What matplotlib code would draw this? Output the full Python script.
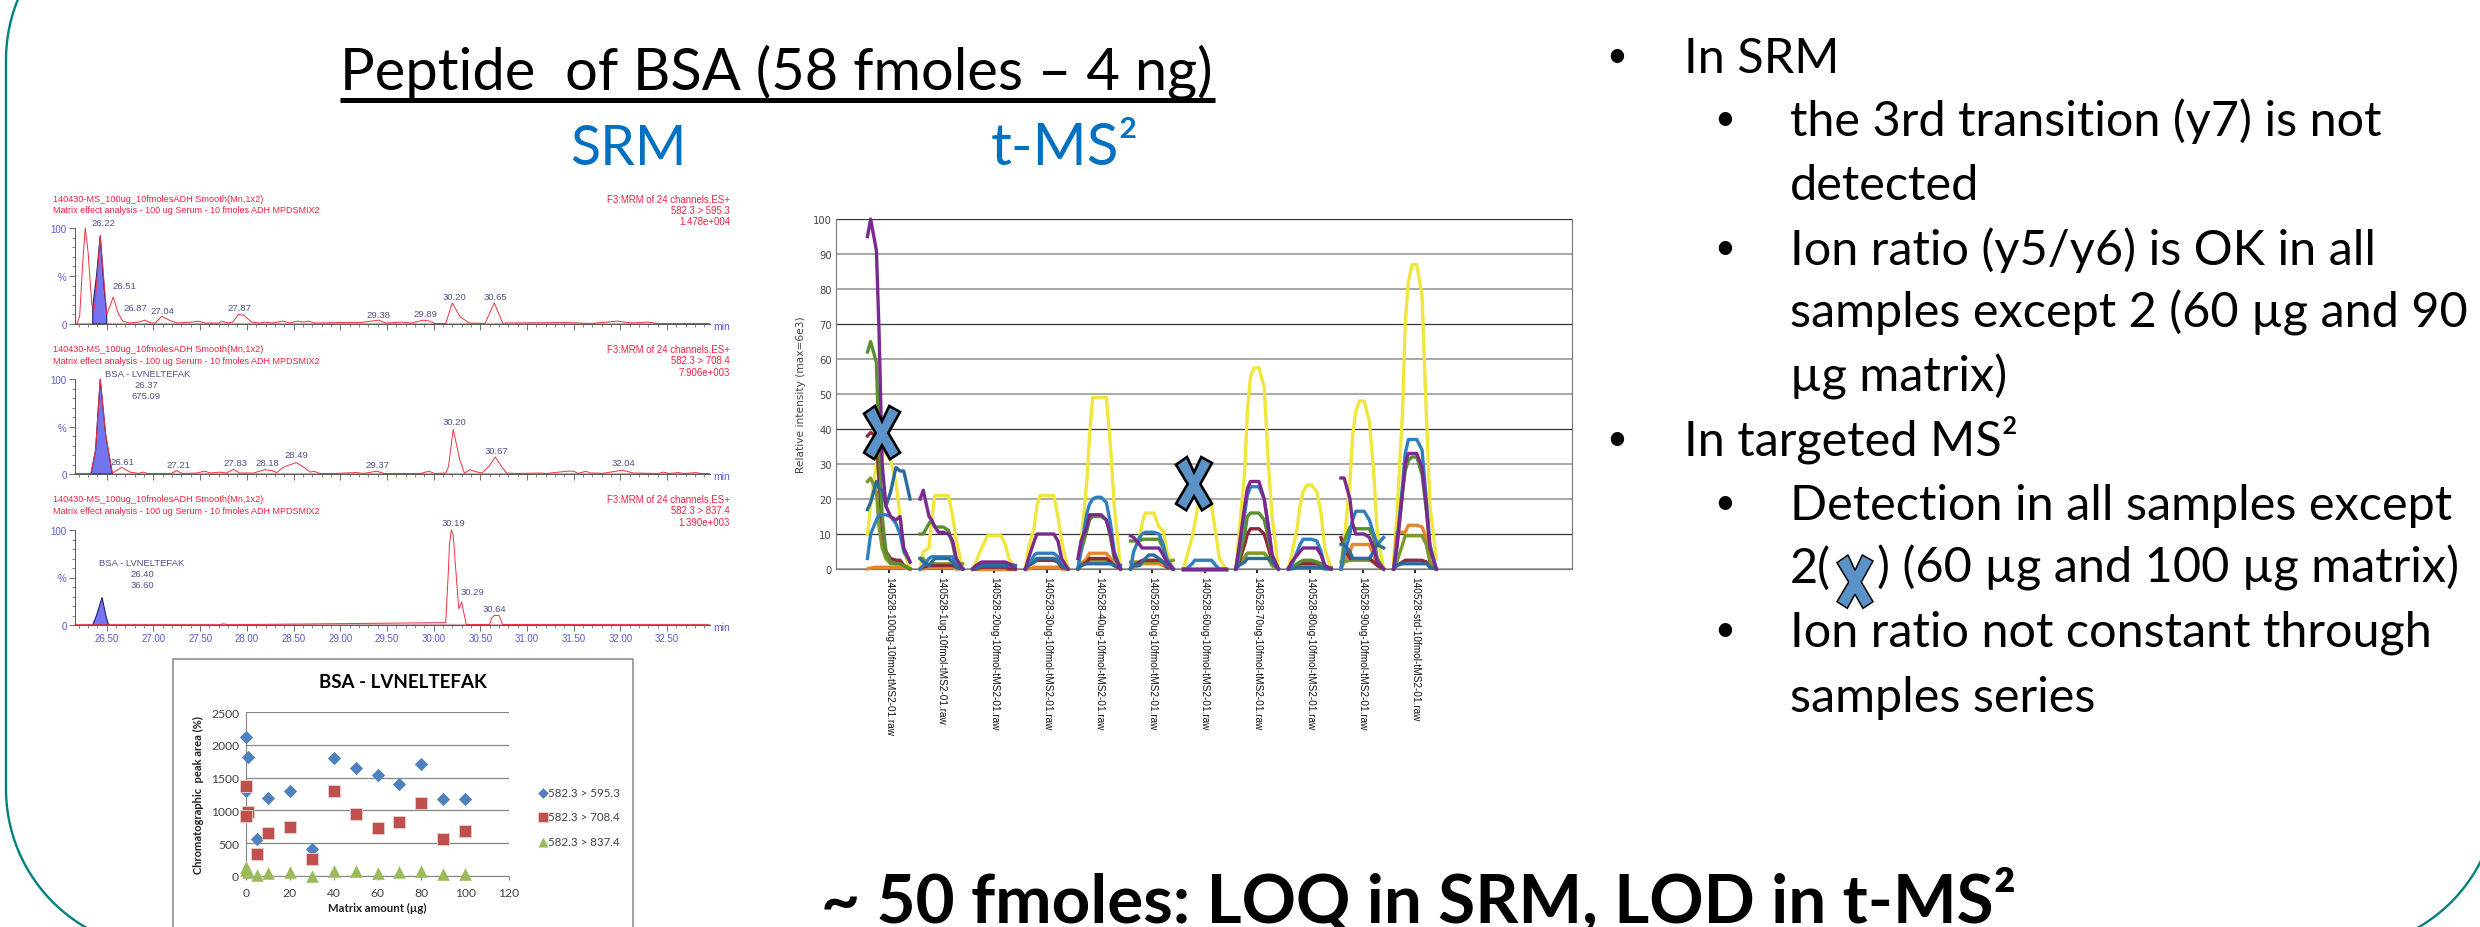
import numpy as np
import matplotlib
matplotlib.use("Agg")
import matplotlib.pyplot as plt
from matplotlib.patches import Polygon
from matplotlib.ticker import MultipleLocator

# data
# ------------------------------------------------------------------------------
p1_rt = [26.16, 26.18, 26.21, 26.24, 26.27, 26.30, 26.34, 26.37, 26.43, 26.50, 26.57, 26.62, 26.67, 26.75,
         26.84, 26.91, 26.97, 27.02, 27.09, 27.19, 27.26, 27.41, 27.48, 27.55, 27.70, 27.73, 27.80, 27.85,
         27.91, 27.97, 28.05, 28.14, 28.19, 28.27, 28.39, 28.46, 28.54, 28.61, 28.66, 28.73, 28.98, 29.22,
         29.41, 29.49, 29.66, 29.76, 29.89, 29.96, 30.01, 30.13, 30.20, 30.28, 30.38, 30.55, 30.65, 30.74,
         31.43, 31.68, 31.97, 32.12, 32.29, 32.41, 32.95]
p1_pct = [0, 0, 8, 60, 100, 75, 20, 15, 92, 10, 28, 12, 3, 1,
          2, 4, 1, 1, 8, 3, 1, 2, 3, 1, 1, 3, 1, 2,
          10, 9, 2, 1, 2, 1, 3, 1, 3, 2, 3, 1, 1.5, 1.5,
          4, 1, 2, 1, 4, 3, 0.5, 0.5, 22, 8, 1, 0.5, 22, 1,
          1.5, 0.5, 3, 1, 2, 0.5, 0.5]
p1_area_rt = [26.35, 26.35, 26.39, 26.43, 26.47, 26.50, 26.50]
p1_area_pct = [0, 18, 50, 92, 40, 10, 0]

p2_rt = [26.16, 26.33, 26.38, 26.43, 26.49, 26.56, 26.66, 26.75, 26.84, 26.89, 26.94, 27.19, 27.25, 27.31, 27.46,
         27.55, 27.61, 27.71, 27.78, 27.86, 27.92, 28.07, 28.19, 28.27, 28.32, 28.39, 28.44, 28.53,
         28.61, 28.68, 28.72, 28.78, 28.93, 29.17, 29.25, 29.39, 29.47, 29.86, 29.95, 30.01, 30.13,
         30.16, 30.21, 30.28, 30.33, 30.39, 30.45, 30.52, 30.60, 30.66, 30.72, 30.78, 30.89, 31.14,
         31.21, 31.43, 31.50, 31.55, 31.63, 31.68, 31.75, 31.80, 32.02, 32.14, 32.41, 32.46, 32.52,
         32.62, 32.68, 32.81, 32.86, 32.95]
p2_pct = [0.5, 0.5, 25, 100, 40, 1, 7, 2, 0.5, 2, 0.5, 0.5, 3.5, 0.5, 1,
          3, 1, 2, 1, 5, 1, 1, 4.5, 3.5, 1.5, 7, 9, 12,
          7, 2, 3, 0.5, 0.5, 1.5, 0.5, 3, 0.5, 0.5, 3, 0.5, 1,
          8, 47, 15, 1, 4.5, 2.5, 1, 9, 18, 9, 1, 0.5, 1,
          0.5, 3, 3, 0.5, 3, 1, 1, 0.5, 4, 1, 0.5, 2, 0.5,
          1.5, 0.5, 1.5, 0.5, 0.5]
p2_area_rt = [26.33, 26.38, 26.43, 26.49, 26.56]
p2_area_pct = [0, 25, 100, 40, 0]

p3_rt = [26.16, 27.70, 27.75, 27.80, 30.13, 30.16, 30.17, 30.19, 30.21, 30.24, 30.27, 30.30, 30.35, 30.60,
         30.62, 30.65, 30.70, 30.74, 32.95]
p3_pct = [0.3, 0.3, 1.2, 0.3, 2.5, 60, 85, 100, 95, 55, 17, 24, 0.5, 0.5, 7, 10, 10, 0.5, 0.3]
p3_area_rt = [26.35, 26.39, 26.45, 26.49, 26.52]
p3_area_pct = [0, 10, 29, 10, 0]
rt_ticks = [26.5, 27, 27.5, 28, 28.5, 29, 29.5, 30, 30.5, 31, 31.5, 32, 32.5]

matrix_blue = [0, 1, 0, 5, 10, 20, 30, 40, 50, 60, 70, 80, 90, 100]
area_blue = [2120, 1810, 1300, 560, 1190, 1290, 410, 1800, 1640, 1540, 1400, 1700, 1180, 1180]
matrix_red = [0, 1, 0, 5, 10, 20, 30, 40, 50, 60, 70, 80, 90, 100]
area_red = [1370, 980, 910, 340, 660, 750, 260, 1290, 950, 730, 830, 1120, 560, 680]
matrix_green = [0, 0, 1, 5, 10, 20, 30, 40, 50, 60, 70, 80, 90, 100]
area_green = [130, 90, 60, 10, 40, 60, 5, 80, 70, 40, 60, 70, 35, 25]
legend_names = ['582.3 > 595.3', '582.3 > 708.4', '582.3 > 837.4']

sample_names = ['140528-100ug-10fmol-tMS2-01.raw', '140528-1ug-10fmol-tMS2-01.raw', '140528-20ug-10fmol-tMS2-01.raw',
                '140528-30ug-10fmol-tMS2-01.raw', '140528-40ug-10fmol-tMS2-01.raw', '140528-50ug-10fmol-tMS2-01.raw',
                '140528-60ug-10fmol-tMS2-01.raw', '140528-70ug-10fmol-tMS2-01.raw', '140528-80ug-10fmol-tMS2-01.raw',
                '140528-90ug-10fmol-tMS2-01.raw', '140528-std-10fmol-tMS2-01.raw']
scan_offsets = [-0.41, -0.35, -0.24, -0.19, -0.13, -0.06, 0.03, 0.13, 0.21, 0.28, 0.40]
yellow = [[10, 18, 30, 33, 33, 33, 31, 25, 15, 5, 0],
          [0, 5, 6, 14, 21, 21, 21, 21, 15, 8, 0],
          [0, 2, 6, 7.5, 9.5, 9.5, 9.5, 9.5, 7, 3, 0],
          [0, 6, 12, 18, 21, 21, 21, 21, 15, 8, 0],
          [0, 8, 25, 38, 49, 49, 49, 49, 35, 18, 0],
          [0, 5, 9, 13, 16, 16, 16, 12, 11, 5, 0],
          [0, 3, 9, 13, 18, 18, 18, 18, 10, 3, 0],
          [0, 10, 28, 45, 55, 57.5, 57.5, 52, 30, 15, 0],
          [0, 4, 12, 18, 22, 24, 24, 22, 16, 6, 0],
          [0, 8, 25, 38, 45, 48, 48, 42, 28, 10, 0],
          [2, 15, 45, 70, 82, 87, 87, 78, 45, 18, 3]]
purple = [[95, 100, 91, 68, 30, 18, 15, 14, 15, 6, 2],
          [20, 22.5, 15, 14, 12, 10.5, 10.5, 10, 8, 3, 0],
          [0, 1, 2, 2, 2, 2, 2, 2, 2, 1.5, 0],
          [0, 3, 8, 10, 10, 10, 10, 10, 8, 3, 0],
          [3, 8, 12, 15.5, 15.5, 15.5, 15.5, 14, 10, 4, 0],
          [9.5, 9, 7, 6, 6, 6, 6, 6, 4, 2, 0],
          [0, 0, 0, 0, 0, 0, 0, 0, 0, 0, 0],
          [0, 6, 18, 23, 25, 25, 25, 20, 12, 4, 0],
          [0, 2, 4, 5, 6, 6, 6, 6, 4, 1, 0],
          [26, 26, 20, 13, 10, 10, 10, 9, 6, 2, 0],
          [0, 6, 22, 30, 33, 33, 33, 29, 18, 6, 0]]
green = [[62, 65, 59, 35, 15, 5, 2, 1.5, 1.5, 1, 0],
         [10, 10, 13, 14, 12, 12, 12, 11, 7, 2, 0],
         [0, 0.5, 1, 1, 1, 1, 1, 1, 1, 1, 0.5],
         [0, 1, 2, 3, 3, 3, 3, 3, 2.5, 1, 0],
         [0, 5, 11, 14, 15, 15, 15, 14, 9, 3, 0],
         [8, 8, 8, 8.5, 8.5, 8.5, 8.5, 8.5, 6, 2, 0],
         [0, 0, 0, 0, 0, 0, 0, 0, 0, 0, 0],
         [0, 3, 10, 15, 16, 16, 16, 14, 9, 3, 0],
         [0, 0.5, 1.5, 2, 2.5, 2.5, 2.5, 2, 1.5, 0.5, 0],
         [0, 8, 12, 12, 11.5, 11.5, 11.5, 11.5, 9, 3, 0],
         [0, 6, 22, 28, 31, 32, 32, 27, 17, 6, 0]]
blue = [[3, 10, 14, 15.5, 15.5, 15.5, 15, 13, 10, 5, 2],
        [0, 1, 3, 3.5, 3.5, 3.5, 3.5, 3.5, 3.5, 1, 0],
        [0, 0.5, 1.5, 1.5, 1.5, 1.5, 1.5, 1.5, 1.5, 1.5, 1],
        [0, 1, 4, 4.5, 4.5, 4.5, 4.5, 4.5, 3.5, 1, 0],
        [0, 6, 16, 18.5, 20, 20.5, 20.5, 19, 13, 5, 0],
        [0, 5, 9, 10, 10.5, 10.5, 10.5, 10, 7, 3, 0],
        [0, 0, 1.5, 2.5, 2.5, 2.5, 2.5, 2.5, 1, 0, 0],
        [0, 5, 16, 21, 23.5, 23.5, 23.5, 20, 12, 4, 0],
        [0, 1, 5, 7, 8.5, 8.5, 8.5, 8, 5, 1, 0],
        [0, 4, 10, 14, 16.5, 16.5, 16.5, 14, 10, 7, 9],
        [0, 7, 24, 33, 37, 37, 37, 34, 20, 7, 0]]
steel = [[17, 19, 25, 23, 22.5, 18, 22, 29, 28, 28, 20],
         [3, 2, 1, 2, 3, 3, 3, 3, 2, 0.5, 0],
         [0, 0, 1, 1, 1, 1, 1, 1, 1, 1, 1],
         [0, 1, 2, 3, 3, 3, 3, 3, 2, 1, 0],
         [0, 1, 1.5, 1.5, 1.5, 1.5, 1.5, 1.5, 1.5, 1, 1],
         [0, 1, 1, 2, 3, 4, 4, 3, 2, 1, 0],
         [0, 0, 0, 0, 0, 0, 0, 0, 0, 0, 0],
         [0, 1, 2, 3, 3, 3, 3, 3, 3, 2, 0],
         [0, 0, 0.5, 0.5, 0.5, 0.5, 0.5, 0.5, 0.5, 0, 0],
         [7, 7, 5, 3, 3, 3, 3, 3, 5, 7, 6],
         [0, 1, 1.5, 1.5, 1.5, 1.5, 1.5, 1.5, 1.5, 0.5, 0]]
darkred = [[38, 39, 38, 25, 12, 5, 3, 2.5, 2.5, 1, 0],
           [0, 0.5, 1, 1, 1, 1, 1, 1, 1, 0.5, 0],
           [0, 0, 0.5, 0.5, 0.5, 0.5, 0.5, 0.5, 0.5, 0, 0],
           [0, 1, 2, 2.5, 2.5, 2.5, 2.5, 2.5, 2, 0.5, 0],
           [0, 1, 2, 3, 3, 3, 3, 3, 2, 1, 0],
           [0, 1, 2, 2.5, 2.5, 2.5, 2.5, 2.5, 2, 0.5, 0],
           [0, 0, 0, 0, 0, 0, 0, 0, 0, 0, 0],
           [0, 2, 7, 10, 11.5, 11.5, 11.5, 10, 6, 2, 0],
           [0, 0.5, 1, 1.5, 1.5, 1.5, 1.5, 1.5, 1, 0.5, 0],
           [9, 6, 3, 3, 3, 3, 3, 3, 2, 1, 0],
           [0, 1, 2, 2.5, 2.5, 2.5, 2.5, 2.5, 2, 0.5, 0]]
orange = [[0, 0.3, 0.5, 0.5, 0.5, 0.5, 0.5, 0.5, 0.5, 0.3, 0],
          [0, 0, 0.5, 0.5, 0.5, 0.5, 0.5, 0.5, 0.5, 0, 0],
          [0, 0, 0, 0, 0, 0, 0, 0, 0, 0, 0],
          [0, 0, 0.5, 0.5, 0.5, 0.5, 0.5, 0.5, 0.5, 0, 0],
          [0, 1.5, 3, 4.5, 4.5, 4.5, 4.5, 4.5, 3, 1, 0],
          [0, 0.5, 1, 1.5, 1.5, 1.5, 1.5, 1.5, 1, 0.5, 0],
          [0, 0, 0, 0, 0, 0, 0, 0, 0, 0, 0],
          [0, 1, 3, 4.5, 4.5, 4.5, 4.5, 4.5, 3, 1, 0],
          [0, 0.5, 1.5, 2, 2, 2, 2, 2, 1.5, 0.5, 0],
          [0, 2, 5, 7, 7, 7, 7, 7, 4, 1, 0],
          [0, 10.5, 10.5, 10.5, 12.5, 12.5, 12.5, 12, 9, 2, 0]]
olive = [[25, 26, 22, 12, 6, 3, 1.5, 1.5, 1.5, 1, 0],
         [3, 3, 1, 1.5, 1.5, 1.5, 1.5, 1.5, 1.5, 1.5, 1.5],
         [0, 0.5, 0.5, 0.5, 0.5, 0.5, 0.5, 0.5, 0.5, 0.5, 0],
         [0, 1.5, 2.5, 2.5, 2.5, 2.5, 2.5, 2.5, 2, 0.5, 0],
         [0, 1, 2, 2.5, 2.5, 2.5, 2.5, 2.5, 2, 1, 0],
         [2, 2, 2, 2, 2, 2, 2, 2, 2, 2, 2.5],
         [0, 0, 0, 0, 0, 0, 0, 0, 0, 0, 0],
         [0, 1.5, 3.5, 4.5, 4.5, 4.5, 4.5, 4.5, 3, 1, 0],
         [0.5, 0.5, 0.5, 0.5, 0.5, 0.5, 0.5, 0.5, 0.5, 0.5, 0.5],
         [2, 2, 2.5, 2.5, 2.5, 2.5, 2.5, 2.5, 2, 1, 0],
         [0, 2, 7, 9.5, 9.5, 9.5, 9.5, 9.5, 7, 2, 0]]
traces = [yellow, orange, olive, darkred, green, blue, steel, purple]
trace_colors = ['#F0E63C', '#E8842A', '#7F9A2C', '#8C2A3C', '#5A8F30', '#2F7FC0', '#2C6A9E', '#7A2A8E']

# helpers
# ------------------------------------------------------------------------------
W, H = 2480, 928
plt.rcParams['font.family'] = ['Lato', 'DejaVu Sans']
fig = plt.figure(figsize=(W / 100, H / 100), dpi=100, facecolor='white')


def pixel_axes(x0, y0, x1, y1):
    return fig.add_axes([x0 / W, 1 - y1 / H, (x1 - x0) / W, (y1 - y0) / H], facecolor='none')


over = fig.add_axes([0, 0, 1, 1], facecolor='none', zorder=10)
over.set_xlim(0, W)
over.set_ylim(H, 0)
over.axis('off')

# frame
# ------------------------------------------------------------------------------
teal = '#00807F'
R = 160
a = np.linspace(np.pi * 0.5, np.pi, 60)
over.plot(np.r_[166 + R * np.cos(a), 166 + R * np.cos(a[::-1])],
          np.r_[61 - R * np.sin(a), 790 + R * np.sin(a[::-1])], color=teal, lw=1.7)
over.plot(2338 + R * np.cos(a[::-1] - np.pi * 0.5), 790 + R * np.sin(a[::-1] - np.pi * 0.5),
          color=teal, lw=1.7)

# heading
over.text(340, 90, 'Peptide  of BSA (58 fmoles – 4 ng)', fontsize=41.7, color='black', va='baseline')
over.plot([340, 1215], [100.5, 100.5], color='black', lw=3.6, solid_capstyle='butt')
over.text(628, 165, 'SRM', fontsize=40, color='#0070C0', ha='center', va='baseline')
over.text(1065, 165, 't-MS²', fontsize=42, color='#0070C0', ha='center', va='baseline')
over.text(821, 922, '~ 50 fmoles: LOQ in SRM, LOD in t-MS²', fontsize=48.5, fontweight='bold',
          color='black', va='baseline')

# bullets
# ------------------------------------------------------------------------------
lines = [(1684, 73, 'In SRM', 1617), (1790, 136, 'the 3rd transition (y7) is not', 1725),
         (1790, 200, 'detected', None), (1790, 265, 'Ion ratio (y5/y6) is OK in all', 1725),
         (1790, 328, 'samples except 2 (60 µg and 90', None), (1790, 392, 'µg matrix)', None),
         (1684, 456, 'In targeted MS²', 1617), (1790, 520, 'Detection in all samples except', 1725),
         (1790, 583, '2(', None), (1877, 583, ') (60 µg and 100 µg matrix)', None),
         (1790, 647, 'Ion ratio not constant through', 1725), (1790, 712, 'samples series', None)]
for x, y, s, bx in lines:
    over.text(x, y, s, fontsize=35, color='black', va='baseline')
    if bx is not None:
        over.text(bx, y - 6, '•', fontsize=26, color='black', ha='center', va='baseline')

# X marks
x_shape = np.array([(-18, -19.3), (-7, -27), (0, -11.7), (7.3, -27), (18, -21), (6.3, 0), (18, 19.7),
                    (8, 26.3), (0, 12.3), (-7.7, 26.3), (-18, 19.7), (-6.3, 0)])
for cx, cy, lw in [(882, 434, 1.9), (1194, 485, 1.9), (1855, 583, 1.1)]:
    over.add_patch(Polygon(x_shape + (cx, cy), closed=True, facecolor='#5B93C9', edgecolor='black', lw=lw))

# SRM chromatograms
# ------------------------------------------------------------------------------
sans = ['Liberation Sans', 'DejaVu Sans']
panels = [(229, 325, p1_rt, p1_pct, p1_area_rt, p1_area_pct),
          (380, 475, p2_rt, p2_pct, p2_area_rt, p2_area_pct),
          (531, 626, p3_rt, p3_pct, p3_area_rt, p3_area_pct)]
for n, (top, bottom, rt, pct, area_rt, area_pct) in enumerate(panels):
    ax = pixel_axes(75, top, 710, bottom)
    ax.set_xlim(26.16, 32.96)
    ax.set_ylim(0, 100)
    ax.axhline(0, color='#D8A8A8', lw=1.6, zorder=1)
    ax.fill(area_rt, area_pct, facecolor='#7474F0', edgecolor='#20206A', lw=0.8, zorder=2)
    ax.plot(rt, pct, color='#F03040', lw=0.7, zorder=3, clip_on=False)
    for side in ['top', 'right']:
        ax.spines[side].set_visible(False)
    for side in ['left', 'bottom']:
        ax.spines[side].set_color('#555555')
        ax.spines[side].set_linewidth(0.7)
    ax.set_yticks([0, 50, 100], ['0', '%', '100'])
    ax.yaxis.set_minor_locator(MultipleLocator(10))
    ax.xaxis.set_major_locator(MultipleLocator(0.5))
    ax.xaxis.set_minor_locator(MultipleLocator(0.1))
    ax.tick_params(which='major', length=4, width=0.6, color='#555555', labelsize=7, labelcolor='#5A5AD0', pad=2)
    ax.tick_params(which='minor', length=2, width=0.5, color='#555555')
    for t in ax.get_yticklabels():
        t.set_family(sans)
    if n == 2:
        ax.set_xticks(rt_ticks, ['%.2f' % v for v in rt_ticks], family=sans)
    else:
        ax.tick_params(axis='x', which='major', labelbottom=False)

    head_y = [199, 350, 500][n]
    over.text(53, head_y, '140430-MS_100ug_10fmolesADH Smooth(Mn,1x2)', fontsize=6.6, color='#F52040',
              family=sans, va='center')
    over.text(53, head_y + 11.5, 'Matrix effect analysis - 100 ug Serum - 10 fmoles ADH MPDSMIX2', fontsize=6.5,
              color='#F52040', family=sans, va='center')
    right = [['F3:MRM of 24 channels,ES+', '582.3 > 595.3', '1.478e+004'],
             ['F3:MRM of 24 channels,ES+', '582.3 > 708.4', '7.906e+003'],
             ['F3:MRM of 24 channels,ES+', '582.3 > 837.4', '1.390e+003']][n]
    for k, s in enumerate(right):
        over.text(730, head_y + 11.5 * k, s, fontsize=6.9, color='#F52040', family=sans, ha='right', va='center')
    over.text(722, bottom + 2, 'min', fontsize=7.5, color='#5A5AD0', family=sans, ha='center', va='center')

peak_labels = [(103, 224, '26.22'), (124, 287, '26.51'), (135, 309, '26.87'), (162, 312, '27.04'),
               (239, 309, '27.87'), (378, 316, '29.38'), (425, 315, '29.89'), (454, 298, '30.20'),
               (495, 298, '30.65'),
               (146, 386, '26.37'), (146, 397, '675.09'), (454, 423, '30.20'), (496, 452, '30.67'),
               (296, 456, '28.49'), (122, 463, '26.61'), (178, 466, '27.21'), (235, 464, '27.83'),
               (267, 464, '28.18'), (377, 466, '29.37'), (623, 464, '32.04'),
               (142, 575, '26.40'), (142, 586, '36.60'), (453, 524, '30.19'), (473, 593, '30.29'),
               (494, 610, '30.64')]
for x, y, s in peak_labels:
    over.text(x, y, s, fontsize=6.8, color='#50508C', family=sans, ha='center', va='center')
over.text(105, 375, 'BSA - LVNELTEFAK', fontsize=6.8, color='#50508C', family=sans, va='center')
over.text(142, 564, 'BSA - LVNELTEFAK', fontsize=6.8, color='#50508C', family=sans, ha='center', va='center')

# peak area scatter
# ------------------------------------------------------------------------------
over.plot([173, 173, 633, 633], [H, 660, 660, H], color='#868686', lw=1.1)
ax = pixel_axes(246, 713, 509, 877)
ax.set_xlim(0, 120)
ax.set_ylim(0, 2500)
ax.yaxis.grid(True, color='#868686', lw=0.9)
ax.set_axisbelow(True)
ax.scatter(matrix_blue, area_blue, marker='D', s=46, color='#4F81BD', linewidths=0, clip_on=False,
           label=legend_names[0], zorder=3)
ax.scatter(matrix_red, area_red, marker='s', s=82, color='#C0504D', edgecolors='#EBCFCE', linewidths=0.6,
           clip_on=False, label=legend_names[1], zorder=4)
ax.scatter(matrix_green, area_green, marker='^', s=82, color='#9BBB59', linewidths=0, clip_on=False,
           label=legend_names[2], zorder=5)
for side in ['top', 'right']:
    ax.spines[side].set_visible(False)
for side in ['left', 'bottom']:
    ax.spines[side].set_color('#868686')
ax.set_xticks([0, 20, 40, 60, 80, 100, 120])
ax.set_yticks([0, 500, 1000, 1500, 2000, 2500])
ax.tick_params(labelsize=8.7, labelcolor='#404040', color='#868686', length=3, pad=5)
ax.tick_params(axis='y', length=0)
ax.set_xlabel('Matrix amount (µg)', fontsize=8.2, fontweight='bold', color='#202020', labelpad=3)
ax.set_ylabel('Chromatographic  peak area (%)', fontsize=8, fontweight='bold', color='#202020', labelpad=5)
ax.legend(loc='center left', bbox_to_anchor=(1.106, 0.36), frameon=False, fontsize=8.3, labelspacing=1.15,
          handletextpad=0, handlelength=1, markerscale=0.8, borderpad=0, borderaxespad=0, labelcolor='#404040')
over.text(403, 683, 'BSA - LVNELTEFAK', fontsize=13.5, fontweight='bold', color='black', ha='center', va='center')

# t-MS2 traces
# ------------------------------------------------------------------------------
ax = pixel_axes(836, 220, 1572, 570)
ax.set_xlim(-1.008, 12.98)
ax.set_ylim(0, 100)
for g in range(0, 101, 10):
    if g in (10, 40, 70, 100):
        ax.axhline(g, color='#333333', lw=0.9, zorder=1)
    else:
        ax.axhline(g, color='#9A9A9A', lw=1.2, zorder=1)
for series, col in zip(traces, trace_colors):
    for i, vals in enumerate(series):
        ax.plot(np.array(scan_offsets) + i, vals, color=col, lw=2.4, zorder=3, clip_on=False,
                solid_joinstyle='round')
for side in ['top']:
    ax.spines[side].set_visible(False)
for side in ['left', 'right', 'bottom']:
    ax.spines[side].set_color('#777777')
ax.set_xticks(range(len(sample_names)), sample_names, rotation=270, family=sans, fontsize=7.2, color='#111111')
ax.set_yticks(range(0, 101, 10))
ax.tick_params(axis='x', length=3, width=1.2, color='black', pad=2)
ax.tick_params(axis='y', length=0, labelsize=7.2, labelcolor='#444444', pad=3)
for t in ax.get_yticklabels():
    t.set_family('DejaVu Sans')
ax.set_ylabel('Relative intensity (max=6e3)', fontsize=7.7, family='DejaVu Sans', color='#444444', labelpad=5)

fig.savefig('out.png', dpi=100)
